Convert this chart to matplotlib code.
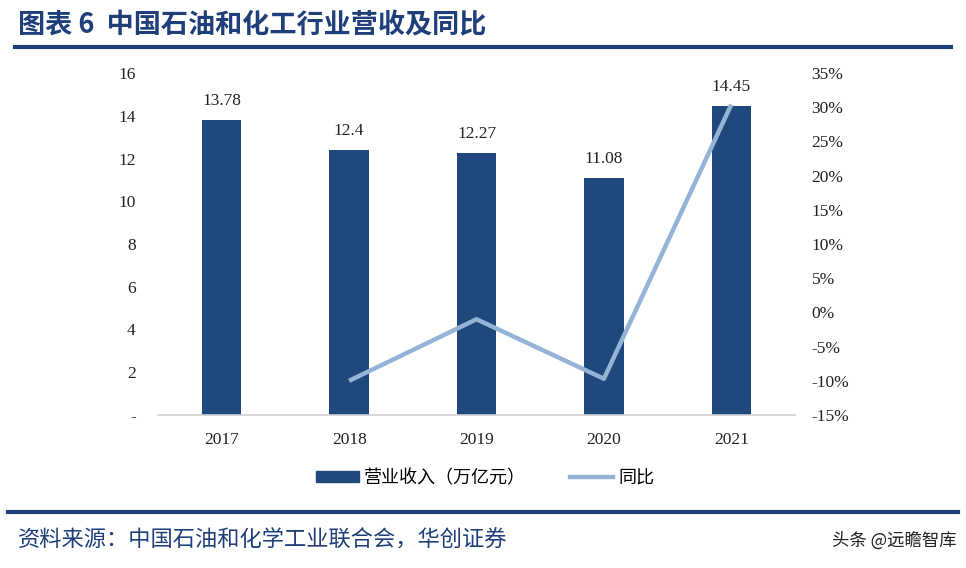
import matplotlib.pyplot as plt
from matplotlib.lines import Line2D
from matplotlib.patches import Patch
from matplotlib.ticker import FuncFormatter

# 数据
anos = ["2017", "2018", "2019", "2020", "2021"]
receita = [13.78, 12.4, 12.27, 11.08, 14.45]
rotulos = ["13.78", "12.4", "12.27", "11.08", "14.45"]
anos_yoy = ["2018", "2019", "2020", "2021"]
yoy = [-10.0, -1.0, -9.7, 30.4]

cor_barra = "#1f497d"
cor_linha = "#95b3d7"
cor_titulo = "#1f3f7a"
serif = ["Liberation Serif", "Noto Sans CJK SC"]
cjk = ["Noto Sans CJK SC", "DejaVu Sans"]

fig = plt.figure(figsize=(9.66, 5.68), dpi=100)
ax = fig.add_axes([0.1636, 0.2694, 0.6594, 0.602])

x = list(range(len(anos)))
ax.bar(x, receita, width=0.31, color=cor_barra, zorder=2)
for xi, v, t in zip(x, receita, rotulos):
    ax.annotate(t, (xi, v), xytext=(0, 8), textcoords="offset points",
                ha="center", va="bottom", fontsize=12.5, family=serif, color="#222222")

ax.set_xlim(-0.5, 4.5)
ax.set_ylim(0, 16)
ax.set_yticks(range(0, 17, 2))
ax.set_yticklabels(["-"] + [str(v) for v in range(2, 17, 2)])
ax.set_xticks(x)
ax.set_xticklabels(anos)
for s in ["top", "right", "left"]:
    ax.spines[s].set_visible(False)
ax.spines["bottom"].set_color("#d0d0d0")
ax.spines["bottom"].set_linewidth(1.2)
ax.tick_params(axis="both", length=0, labelsize=12.5, colors="#222222")
ax.tick_params(axis="y", pad=16)
ax.tick_params(axis="x", pad=12)
for lb in ax.get_xticklabels() + ax.get_yticklabels():
    lb.set_family(serif)

ax2 = ax.twinx()
ax2.plot([anos.index(a) for a in anos_yoy], yoy, color=cor_linha, lw=3.2,
         solid_capstyle="butt", zorder=3)
ax2.set_ylim(-15, 35)
ax2.set_yticks(range(-15, 36, 5))
ax2.yaxis.set_major_formatter(FuncFormatter(lambda v, p: f"{int(v)}%"))
for s in ["top", "right", "left", "bottom"]:
    ax2.spines[s].set_visible(False)
ax2.tick_params(axis="y", length=0, labelsize=12.5, colors="#222222", pad=12)
for lb in ax2.get_yticklabels():
    lb.set_family(serif)

# legenda
handles = [Patch(color=cor_barra), Line2D([0], [0], color=cor_linha, lw=3.2)]
fig.legend(handles, ["营业收入（万亿元）", "同比"], loc="center",
           bbox_to_anchor=(0.502, 0.158), ncol=2, frameon=False,
           prop={"family": cjk, "size": 13}, handlelength=2.4,
           handleheight=0.55, handletextpad=0.3, columnspacing=2.4)

# título e fonte
fig.text(0.019, 0.955, "图表 6  中国石油和化工行业营收及同比", fontsize=19.5,
         fontweight="bold", color=cor_titulo, family=cjk, va="center")
fig.add_artist(Line2D([0.016, 0.984], [0.917, 0.917], color="#1f3f7a", lw=3))
fig.add_artist(Line2D([0.008, 0.992], [0.098, 0.098], color="#1f3f7a", lw=3))
fig.text(0.019, 0.049, "资料来源：中国石油和化学工业联合会，华创证券", fontsize=16,
         style="italic", color=cor_titulo, family=cjk, va="center")
fig.text(0.99, 0.049, "头条 @远瞻智库", fontsize=12.5, color="#222222",
         family=cjk, va="center", ha="right")

plt.savefig("out.png", dpi=100)
